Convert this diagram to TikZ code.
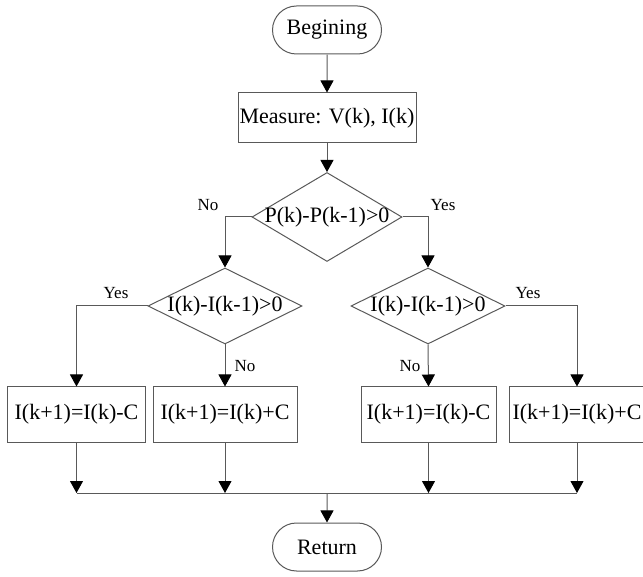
\documentclass[tikz,border=0pt]{standalone}
\usepackage{fontspec}
\setmainfont{Liberation Serif}
\usetikzlibrary{shapes.geometric, shapes.misc, arrows.meta}

\begin{document}
\begin{tikzpicture}[
  x=0.5pt, y=-0.5pt,
  font=\fontsize{11}{13}\selectfont,
  line/.style={draw=black!65, line width=0.5pt},
  terminal/.style={line, rounded rectangle, minimum width=54.5pt, minimum height=24pt, inner sep=0pt},
  process/.style={line, rectangle, minimum width=69pt, minimum height=27.5pt, inner sep=0pt},
  decision/.style={line, diamond, inner sep=0pt},
  flow/.style={line, -{Triangle[length=6pt, width=6.5pt, color=black]}},
  branch/.style={font=\fontsize{8.5}{10}\selectfont}
]
\useasboundingbox (0,0) rectangle (643,577);
% main column
\node[terminal] (begin) at (327,30) {Begining};
\node[process, minimum width=89pt, minimum height=25pt] (measure) at (327,118) {Measure: V(k), I(k)};
\node[decision, minimum width=75pt, minimum height=44.5pt, label=center:{P(k)-P(k-1)>0}] (dp) at (327,217) {};
% second level
\node[decision, minimum width=77pt, minimum height=38pt, label=center:{I(k)-I(k-1)>0}] (dl) at (225,306) {};
\node[decision, minimum width=77pt, minimum height=38pt, label=center:{I(k)-I(k-1)>0}] (dr) at (428,306) {};
% update steps
\node[process] (dec1) at (76.5,414.5) {I(k+1)=I(k)-C};
\node[process, minimum width=72pt] (inc1) at (225,414.5) {I(k+1)=I(k)+C};
\node[process, minimum width=67.5pt] (dec2) at (428.5,414.5) {I(k+1)=I(k)-C};
\node[process, minimum width=67.5pt] (inc2) at (577,414.5) {I(k+1)=I(k)+C};
\node[terminal] (return) at (327,547) {Return};
\coordinate (join) at (327,493);
% branch labels
\node[branch] (no1) at (208,205) {No};
\node[branch] (yes1) at (443,205) {Yes};
\node[branch] (yes2) at (116,293) {Yes};
\node[branch] (no2) at (245,366) {No};
\node[branch] (no3) at (410,366) {No};
\node[branch] (yes3) at (528,293) {Yes};
% connectors
\draw[flow] (begin) -- (measure);
\draw[flow] (measure) -- (dp);
\draw[flow] (dp.west) -| (dl.north);
\draw[flow] (dp.east) -| (dr.north);
\draw[flow] (dl.west) -| (dec1.north);
\draw[flow] (dl.south) -- (inc1.north);
\draw[flow] (dr.south) -- (dec2.north);
\draw[flow] (dr.east) -| (inc2.north);
\foreach \n in {dec1, inc1, dec2, inc2}
  \draw[flow] (\n.south) -- (\n.south |- join);
\draw[line] (dec1.south |- join) -- (inc2.south |- join);
\draw[flow] (join) -- (return);
\end{tikzpicture}
\end{document}
